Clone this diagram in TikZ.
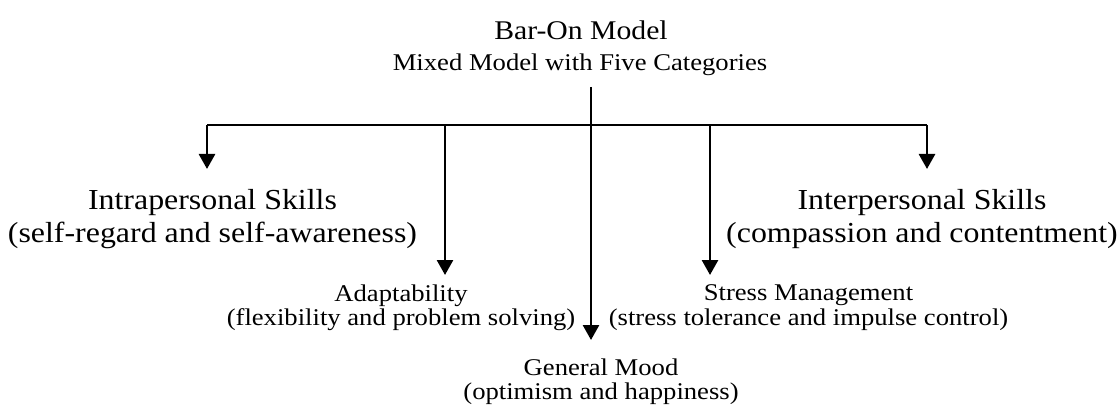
\documentclass[tikz,border=0pt]{standalone}
\usepackage{fontspec}
\usepackage{tikz}
\usetikzlibrary{arrows.meta,positioning}
\newfontfamily\headfont[FakeStretch=1.1]{Liberation Serif}
\newfontfamily\bodyfont[FakeStretch=1.11]{Liberation Serif}
\begin{document}
\begin{tikzpicture}[x=1pt,y=1pt,
                head/.style={font=\headfont\fontsize{29}{33}\selectfont,align=center,inner sep=0pt,anchor=north},
                body/.style={font=\bodyfont\fontsize{24}{24.5}\selectfont,align=center,inner sep=0pt,anchor=north},
                link/.style={line width=2.7pt},
                arr/.style={link,-{Triangle[width=16pt,length=15pt]}}]
                \useasboundingbox (0,0) rectangle (1118,410);

                \node [inner sep=0pt,anchor=base,font=\headfont\fontsize{27}{31}\selectfont] (title) at (581,370) {Bar-On Model};
                \node [inner sep=0pt,anchor=base,font=\bodyfont\fontsize{24}{26}\selectfont] (sub) at (580,339) {Mixed Model with Five Categories};

                \node [head] (intra) at (212.5,221) {Intrapersonal Skills\\(self-regard and self-awareness)};
                \node [head] (inter) at (922,221) {Interpersonal Skills\\(compassion and contentment)};
                \node [body] (adapt) at (401,125.5) {Adaptability\\(flexibility and problem solving)};
                \node [body] (stress) at (808.5,125.5) {Stress Management\\(stress tolerance and impulse control)};
                \node [body] (mood) at (601,51.5) {General Mood\\(optimism and happiness)};

                \coordinate (top) at (591,323);
                \coordinate (mid) at (591,285);
                \coordinate (b1) at (207,285);
                \coordinate (b2) at (445,285);
                \coordinate (b4) at (710,285);
                \coordinate (b5) at (927,285);

                % branch line
                \draw [link] (b1) -- (b5);
                \draw [arr,shorten >=20pt] (b1) -- (b1 |- intra.north);
                \draw [arr,shorten >=20pt] (b5) -- (b5 |- inter.north);
                \draw [arr,shorten >=9.5pt] (b2) -- (b2 |- adapt.north);
                \draw [arr,shorten >=9.5pt] (b4) -- (b4 |- stress.north);
                \draw [arr,shorten >=18.5pt] (top) -- (top |- mood.north);
            \end{tikzpicture}
\end{document}
